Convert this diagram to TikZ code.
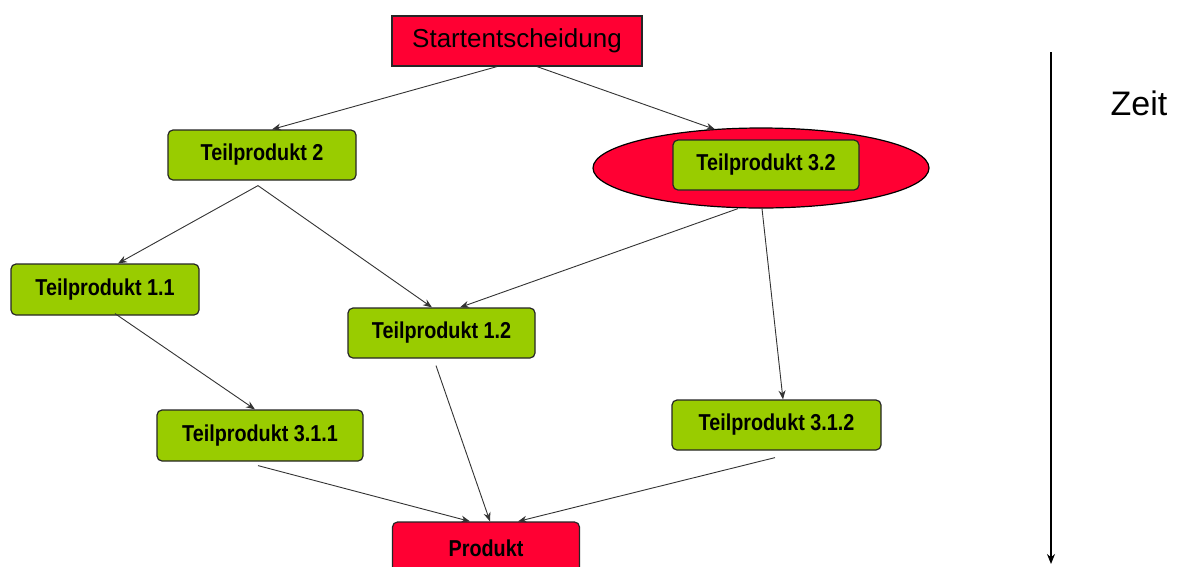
\documentclass[tikz,border=0pt]{standalone}
\usepackage{fontspec}
\setmainfont{Liberation Sans}
\newfontfamily\nb[FakeStretch=0.86]{Liberation Sans}
\usetikzlibrary{calc,arrows.meta,shapes.geometric}
\definecolor{rd}{HTML}{FF0033}
\definecolor{gr}{HTML}{99CC00}
\tikzset{
  box/.style={draw=black!85, line width=1.2pt, fill=gr, rounded corners=5pt, inner sep=0pt,
              font=\nb\bfseries\fontsize{23}{25}\selectfont, text=black},
  redbox/.style={box, fill=rd},
  conn/.style={draw=black!80, line width=0.9pt, -{Stealth[length=9pt,width=7pt]}},
}
\begin{document}
\begin{tikzpicture}[x=1pt,y=-1pt]
\useasboundingbox[fill=white] (0,0) rectangle (1178,566);
\clip (0,0) rectangle (1178,566);
\node[draw=black!85, line width=1.2pt, fill=rd, minimum width=250pt, minimum height=50pt, inner sep=0pt,
      font=\fontsize{26}{28}\selectfont] (start) at (517,41) {Startentscheidung};
\node[box, minimum width=188pt, minimum height=50pt] (t2) at (262,155) {Teilprodukt 2};
\node[ellipse, draw=black, line width=1.2pt, fill=rd, minimum width=336pt, minimum height=80pt, inner sep=0pt] (ell) at (761,168) {};
\node[box, minimum width=186pt, minimum height=50pt] (t32) at (766,165) {Teilprodukt 3.2};
\node[box, minimum width=188pt, minimum height=51pt] (t11) at (105,289.5) {Teilprodukt 1.1};
\node[box, minimum width=187pt, minimum height=50pt] (t12) at (441.5,333) {Teilprodukt 1.2};
\node[box, minimum width=206pt, minimum height=51pt] (t311) at (260,435.5) {Teilprodukt 3.1.1};
\node[box, minimum width=209pt, minimum height=50pt] (t312) at (776.5,425) {Teilprodukt 3.1.2};
\node[redbox, minimum width=187pt, minimum height=52pt] (prod) at (486,548) {Produkt};
\node[font=\fontsize{34}{36}\selectfont] (zeit) at (1139,103) {Zeit};
\coordinate (ztop) at (1051,52);
\coordinate (zbot) at (1051,564);

\draw[conn] ($(start.south)+(-20,0)$) -- ($(t2.north)+(10,0)$);
\draw[conn] ($(start.south)+(20,0)$) -- ($(ell.north)+(-46,2)$);
\draw[conn] ($(t2.south)+(-4,5)$) -- ($(t11.north)+(13,0)$);
\draw[conn] ($(t2.south)+(-4,5)$) -- ($(t12.north)+(-9.5,0)$);
\draw[conn] ($(ell.south)+(-23,0)$) -- ($(t12.north)+(18.5,0)$);
\draw[conn] ($(ell.south)+(1,0)$) -- ($(t312.north)+(6.5,0)$);
\draw[conn] ($(t11.south)+(10,-2)$) -- ($(t311.north)+(-5,0)$);
\draw[conn] ($(t12.south)+(-5.5,7)$) -- ($(prod.north)+(4,0)$);
\draw[conn] ($(t311.south)+(-2,4)$) -- ($(prod.north)+(-16,0)$);
\draw[conn] ($(t312.south)+(-1.5,7)$) -- ($(prod.north)+(32,0)$);
\draw[draw=black, line width=1.4pt, -{Stealth[length=10pt,width=8pt]}] (ztop) -- (zbot);
\end{tikzpicture}
\end{document}
